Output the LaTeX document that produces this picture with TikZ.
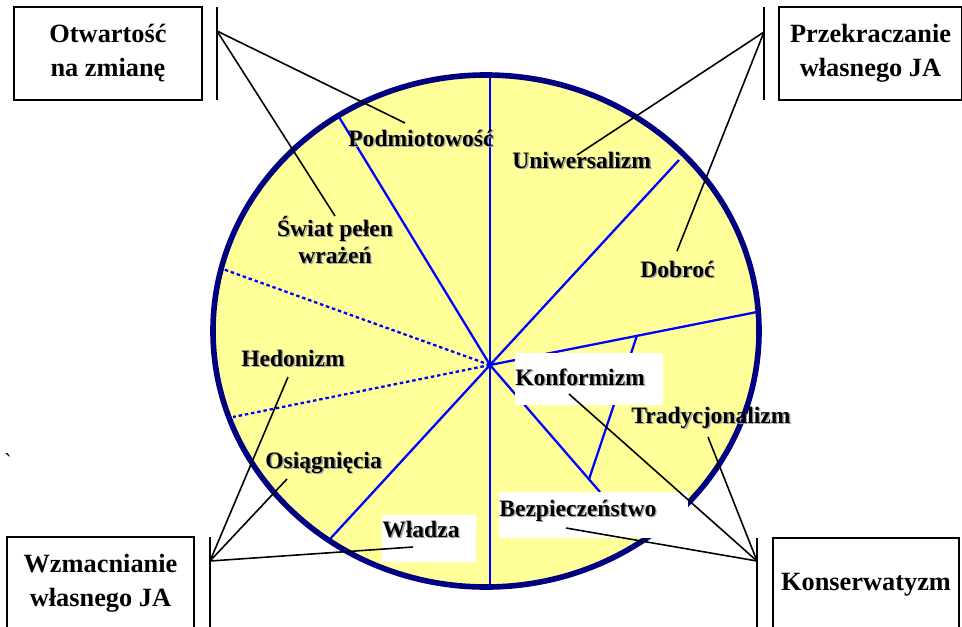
\documentclass[tikz,border=0pt]{standalone}
\usepackage{fontspec}
\setmainfont{Liberation Serif}
\usetikzlibrary{calc}

\definecolor{pale}{HTML}{FFFF99}
\definecolor{rim}{HTML}{000080}

% label text with a soft grey shadow
\newcommand{\shad}[1]{\makebox[0pt][l]{\raisebox{-0.8pt}{\kern0.8pt\textcolor{black!35}{#1}}}#1}

\tikzset{
  lab/.style={font=\bfseries\fontsize{13.4}{15.3}\selectfont, inner sep=0pt},
  cat/.style={draw, line width=1.1pt, font=\bfseries\fontsize{15}{19.3}\selectfont,
    align=center, minimum width=3.76cm, minimum height=1.86cm},
  whitebox/.style={lab, fill=white, align=left},
  spoke/.style={blue, line width=1.3pt},
  conn/.style={line width=0.9pt},
  bar/.style={line width=1.1pt}
}

\begin{document}
\begin{tikzpicture}[x=0.02cm, y=-0.02cm]
\useasboundingbox (0,0) rectangle (962,626);
\clip (0,0) rectangle (962,626);

% Wheel
\fill[pale] (486,331) ellipse [x radius=273, y radius=256];

% Spokes
\coordinate (hub) at (490,365);
\coordinate (r) at (757,312);
\coordinate (br) at (600,492);
\draw[spoke] (490,78) -- (490,585);
\foreach \x/\y in {339/117, 679/160, 757/312, 600/492, 330/539}
  \draw[spoke] (hub) -- (\x,\y);
\foreach \x/\y in {220/268, 233/417}
  \draw[spoke, dash pattern=on 2pt off 1.6pt] (hub) -- (\x,\y);
\draw[spoke] ($(hub)!0.55!(r)$) -- ($(hub)!0.9!(br)$);

% Rim
\draw[rim, line width=3.2pt] (486,331) ellipse [x radius=273, y radius=256];

% Values
\node[lab, anchor=base west] (pod) at (348,146) {\shad{Podmiotowość}};
\node[lab, anchor=base west] (uni) at (512,168) {\shad{Uniwersalizm}};
\node[lab, anchor=base west] (dob) at (640,277) {\shad{Dobroć}};
\node[lab, align=center, anchor=north] (swi) at (335,216) {\shad{Świat pełen}\\\shad{wrażeń}};
\node[lab, anchor=base west] (hed) at (241,366) {\shad{Hedonizm}};
\node[lab, anchor=base west] (osi) at (265,468) {\shad{Osiągnięcia}};
\node[lab, anchor=base west] (tra) at (631,423) {\shad{Tradycjonalizm}};
\node[whitebox, text width=2.96cm, text height=0.64cm, text depth=0.4cm,
  anchor=base west] (konf) at (515,385) {\shad{Konformizm}};
\node[whitebox, text width=3.78cm, text height=0.48cm, text depth=0.44cm,
  anchor=base west] (bez) at (499,516) {\shad{Bezpieczeństwo}};
\node[whitebox, text width=1.88cm, text height=0.44cm, text depth=0.5cm,
  anchor=base west] (wla) at (382,537) {\shad{Władza}};
\node[font=\fontsize{13}{15}\selectfont, inner sep=0pt] (tick) at (8,462) {\textasciigrave};

% Groups
\node[cat] (otw) at (108,53.5) {Otwartość\\na zmianę};
\node[cat, minimum width=3.66cm] (prz) at (870.5,53.5) {Przekraczanie\\własnego JA};
\node[cat, minimum width=3.74cm] (wzm) at (100.5,583.5) {Wzmacnianie\\własnego JA};
\node[cat, minimum width=3.72cm] (kons) at (866,584.5) {Konserwatyzm};

% Brackets
\draw[bar] (217,7) -- (217,100);
\draw[bar] (764,7) -- (764,100);
\draw[bar] (210,537) -- (210,630);
\draw[bar] (757,538) -- (757,630);

\coordinate (fo) at (217,31);
\coordinate (fp) at (764,32);
\coordinate (fw) at (210,561);
\coordinate (fk) at (757,561);

% Pointer ends
\coordinate (pod-t) at (405,123);
\coordinate (swi-t) at (335,216);
\coordinate (uni-t) at (577,155);
\coordinate (dob-t) at (677,251);
\coordinate (hed-t) at (288,377);
\coordinate (osi-t) at (287,479);
\coordinate (wla-t) at (413,547);
\coordinate (konf-t) at (569,394);
\coordinate (tra-t) at (708,437);
\coordinate (bez-t) at (566,528);

% Pointers
\draw[conn] (fo) -- (pod-t);
\draw[conn] (fo) -- (swi-t);
\draw[conn] (fp) -- (uni-t);
\draw[conn] (fp) -- (dob-t);
\draw[conn] (fw) -- (hed-t);
\draw[conn] (fw) -- (osi-t);
\draw[conn] (fw) -- (wla-t);
\draw[conn] (fk) -- (konf-t);
\draw[conn] (fk) -- (tra-t);
\draw[conn] (fk) -- (bez-t);

\end{tikzpicture}
\end{document}
